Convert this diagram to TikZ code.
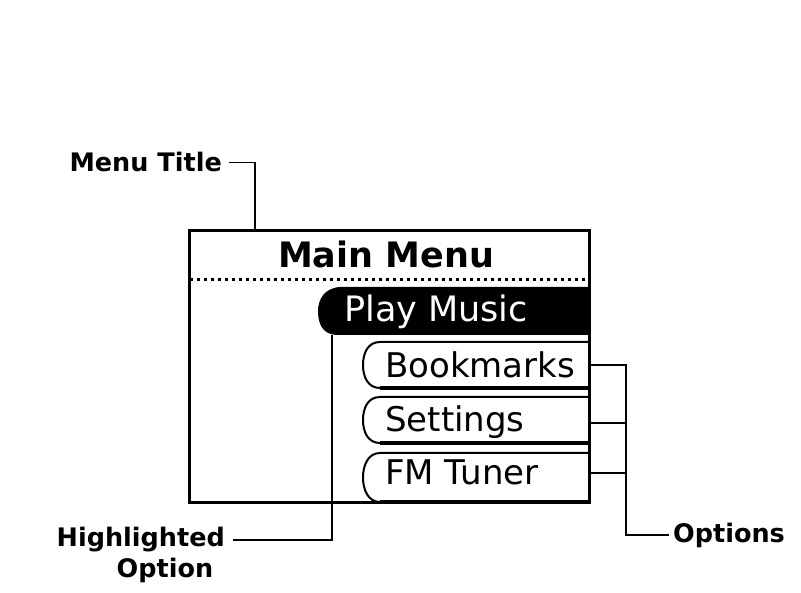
\documentclass[tikz,border=0pt]{standalone}
\usepackage{fontspec}
\usetikzlibrary{positioning,calc}
\newfontfamily\labelfont{DejaVu Sans}
\newfontfamily\screenfont{DejaVu Sans}
\definecolor{lcdink}{RGB}{0,0,0}
\definecolor{lcdpaper}{RGB}{255,255,255}

\tikzset{
  screenbox/.style={draw=lcdink,line width=3pt,minimum width=400pt,minimum height=272pt,inner sep=0pt},
  calloutlabel/.style={font=\labelfont\bfseries\fontsize{25.5}{30}\selectfont,text=lcdink,inner sep=0pt},
  callout/.style={draw=lcdink,line width=1.8pt},
  menuitem/.style={font=\screenfont\fontsize{34}{40}\selectfont,text=lcdink,inner sep=0pt,anchor=base west},
}

\begin{document}
\begin{tikzpicture}[x=1pt,y=-1pt]
  \useasboundingbox[fill=lcdpaper] (0,0) rectangle (801,593);
  % the player screen
  \node[screenbox] (screen) at (389,367) {};
  \node[font=\screenfont\bfseries\fontsize{35}{40}\selectfont,inner sep=0pt,anchor=base] (title) at (386,268) {Main Menu};
  \draw[lcdink,line width=3pt,dash pattern=on 3pt off 4pt] (190,280) -- (588,280);
  % highlighted entry
  \fill[lcdink] (589,287) -- (340,287) .. controls (324,288) and (318,300) .. (318,311)
    .. controls (318,323) and (322,334) .. (336,335) -- (589,335) -- cycle;
  \node[menuitem,text=lcdpaper,font=\screenfont\fontsize{35}{40}\selectfont] (play) at (344,322) {Play Music};
  % other entries
  \foreach \name/\txt/\top/\bot/\base in {
    bookmarks/Bookmarks/342/388/378,
    settings/Settings/397/443/432,
    fmtuner/FM Tuner/453/502/485}{
    \pgfmathsetmacro{\midy}{(\top+\bot)/2}
    \draw[lcdink,line width=2pt] (589,\top) -- (380,\top) .. controls (368,\top) and (363,\midy-12) .. (363,\midy)
      .. controls (363,\midy+12) and (368,\bot) .. (380,\bot);
    \draw[lcdink,line width=4pt] (380,\bot) -- (589,\bot);
    \node[menuitem] (\name) at (385,\base) {\txt};
  }
  % callouts
  \node[calloutlabel,anchor=base east] (menutitle) at (222,172) {Menu Title};
  \coordinate (titlepin) at (255,231);
  \draw[callout,shorten <=7pt] (menutitle.east) -| (titlepin);

  \node[calloutlabel,anchor=base east] (highlighted) at (225,547) {Highlighted};
  \node[calloutlabel,anchor=base] (highlightedopt) at (165,577) {Option};
  \coordinate (playpin) at (332,335);
  \draw[callout,shorten <=8pt] (highlighted.east) -| (playpin);

  \node[calloutlabel,anchor=base west] (options) at (673,542) {Options};
  \coordinate (optjoin) at ($(options.west)+(-47,0)$);
  \draw[callout,shorten >=4pt] (screen.east |- bookmarks) -| (optjoin) -- (options.west);
  \draw[callout] (screen.east |- settings) -- (optjoin |- settings);
  \draw[callout] (screen.east |- fmtuner) -- (optjoin |- fmtuner);
\end{tikzpicture}
\end{document}
